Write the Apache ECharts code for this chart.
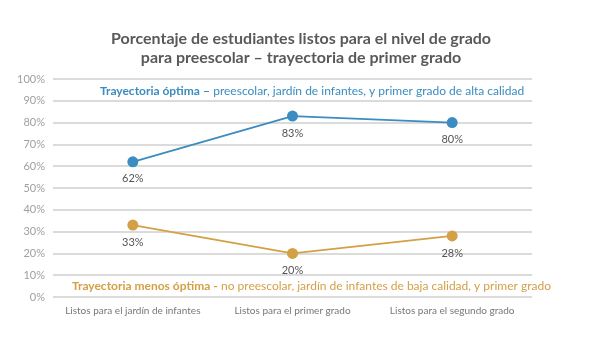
<!DOCTYPE html>
<html>
<head>
<meta charset="utf-8">
<script src="https://cdn.jsdelivr.net/npm/echarts@6/dist/echarts.min.js"></script>
<style>
  html, body { margin: 0; padding: 0; background: #fff; }
  #chart { width: 600px; height: 353px; }
</style>
</head>
<body>
<div id="chart"></div>
<script>
// datos
const categorias = ["Listos para el jardín de infantes", "Listos para el primer grado", "Listos para el segundo grado"];
const optima = [62, 83, 80];
const menosOptima = [33, 20, 28];
const yTicks = [0, 10, 20, 30, 40, 50, 60, 70, 80, 90, 100];

const AZUL = "#3a8cc1";
const ORO = "#d4a046";
const FONT = "Lato, 'Open Sans', sans-serif";

const myChart = echarts.init(document.getElementById("chart"));

const option = {
  backgroundColor: "#fff",
  title: {
    text: "Porcentaje de estudiantes listos para el nivel de grado\npara preescolar – trayectoria de primer grado",
    left: 296,
    textAlign: "center",
    top: 24,
    textStyle: {
      fontFamily: FONT,
      fontSize: 16,
      fontWeight: "bold",
      color: "#595959",
      lineHeight: 19
    }
  },
  grid: { left: 53, right: 68, top: 79, bottom: 56 },
  xAxis: {
    type: "category",
    data: categorias,
    axisLine: { show: false },
    axisTick: { show: false },
    axisLabel: { color: "#777", fontSize: 10, fontFamily: FONT, margin: 9, interval: 0 }
  },
  yAxis: {
    type: "value",
    min: yTicks[0],
    max: yTicks[yTicks.length - 1],
    interval: 10,
    axisLine: { show: false },
    axisTick: { show: false },
    axisLabel: { color: "#a0a0a0", fontSize: 11, fontFamily: FONT, formatter: "{value}%", margin: 8 },
    splitLine: { lineStyle: { color: "#cfcfcf", width: 1.5 } }
  },
  graphic: [
    {
      type: "text",
      left: 100,
      top: 85,
      style: {
        text: "{b|Trayectoria óptima –} {r|preescolar, jardín de infantes, y primer grado de alta calidad}",
        rich: {
          b: { fontFamily: FONT, fontSize: 12, fontWeight: "bold", fill: AZUL },
          r: { fontFamily: FONT, fontSize: 12, fill: AZUL }
        }
      }
    },
    {
      type: "text",
      left: 72,
      top: 280,
      style: {
        text: "{b|Trayectoria menos óptima -} {r|no preescolar, jardín de infantes de baja calidad, y primer grado}",
        rich: {
          b: { fontFamily: FONT, fontSize: 12, fontWeight: "bold", fill: ORO },
          r: { fontFamily: FONT, fontSize: 12, fill: ORO }
        }
      }
    }
  ],
  series: [
    {
      name: "Trayectoria óptima",
      type: "line",
      data: optima,
      symbol: "circle",
      symbolSize: 11,
      itemStyle: { color: AZUL },
      lineStyle: { color: AZUL, width: 1.8 },
      label: {
        show: true,
        position: "bottom",
        distance: 6,
        formatter: "{c}%",
        color: "#555",
        fontSize: 11,
        fontFamily: FONT
      },
      animation: false
    },
    {
      name: "Trayectoria menos óptima",
      type: "line",
      data: menosOptima,
      symbol: "circle",
      symbolSize: 11,
      itemStyle: { color: ORO },
      lineStyle: { color: ORO, width: 1.8 },
      label: {
        show: true,
        position: "bottom",
        distance: 6,
        formatter: "{c}%",
        color: "#555",
        fontSize: 11,
        fontFamily: FONT
      },
      animation: false
    }
  ]
};

myChart.setOption(option);
</script>
</body>
</html>
